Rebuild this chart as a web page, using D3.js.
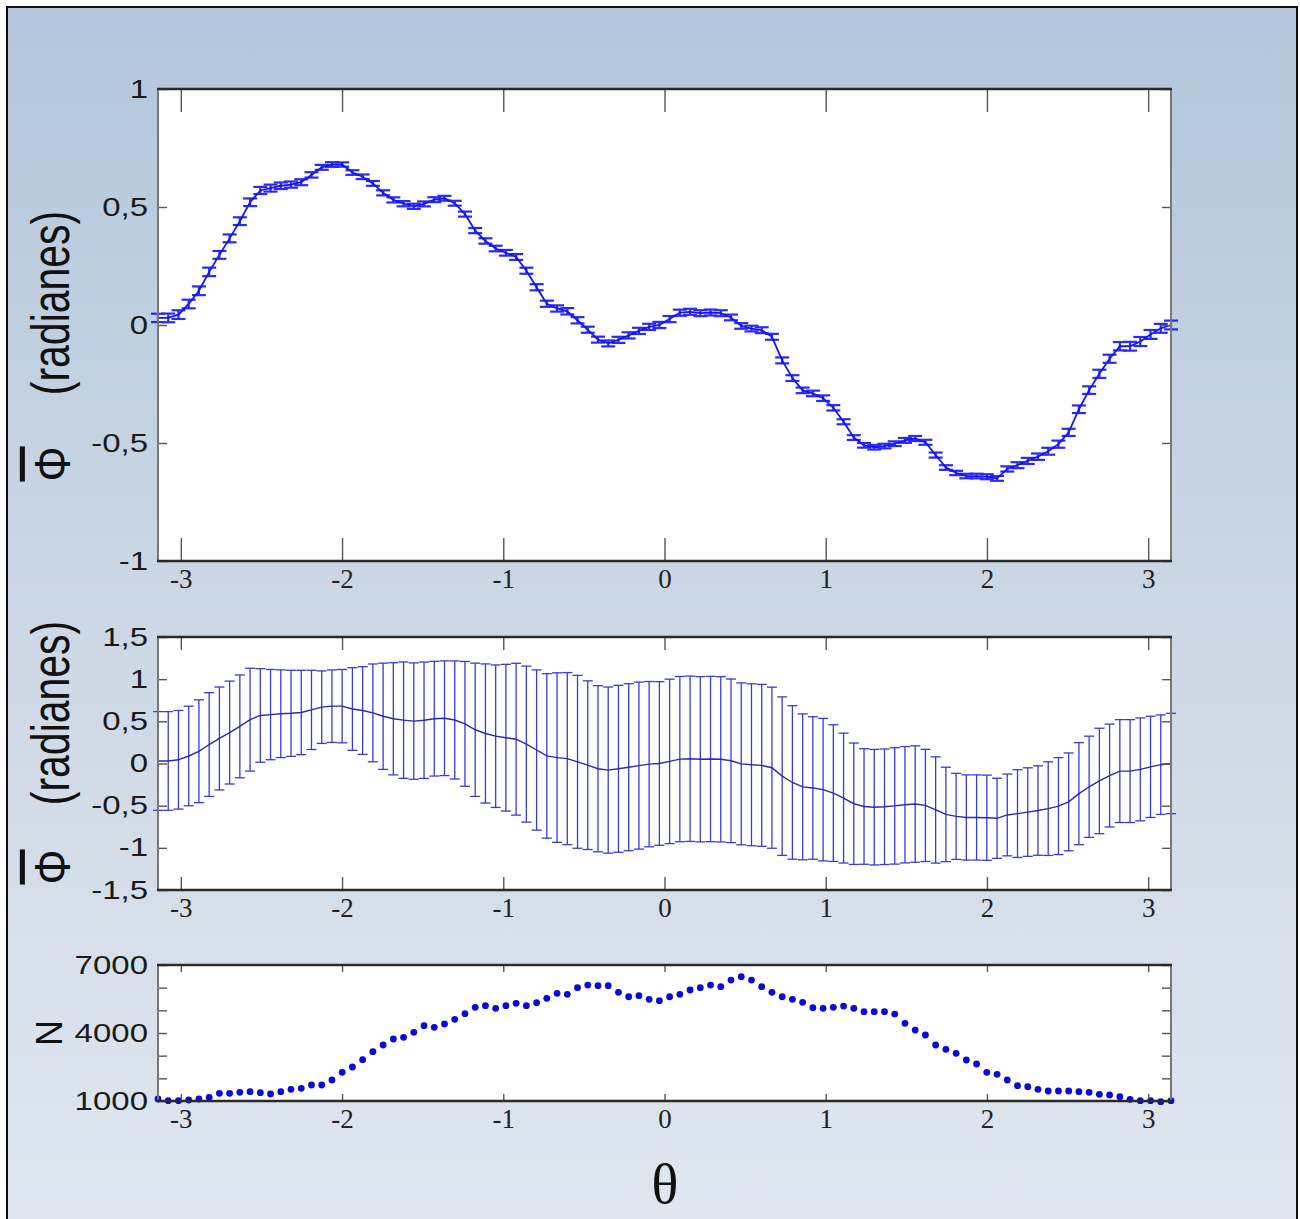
<!DOCTYPE html>
<html><head><meta charset="utf-8">
<script src="https://cdn.jsdelivr.net/npm/d3@7"></script>
<style>html,body{margin:0;padding:0;background:#fff}svg{display:block}</style>
</head><body>
<svg id="c" width="1300" height="1219"></svg>
<script>
// ---------- data ----------
const thetaMin = -Math.PI, thetaMax = Math.PI;
const nBins = 100;
const theta = d3.range(nBins).map(i => thetaMin + i * (thetaMax - thetaMin) / (nBins - 1));

const meanPhi = [0.03,0.03,0.044,0.089,0.145,0.225,0.297,0.367,0.44,0.52,
0.57,0.58,0.59,0.595,0.605,0.636,0.668,0.68,0.68,0.646,
0.628,0.60,0.56,0.53,0.514,0.503,0.513,0.531,0.537,0.516,
0.47,0.40,0.356,0.324,0.306,0.288,0.23,0.16,0.09,0.07,
0.058,0.02,-0.02,-0.062,-0.078,-0.063,-0.044,-0.025,-0.008,0.0,
0.025,0.052,0.056,0.05,0.053,0.05,0.032,-0.004,-0.015,-0.022,
-0.05,-0.15,-0.225,-0.277,-0.29,-0.31,-0.351,-0.41,-0.477,-0.51,
-0.518,-0.513,-0.503,-0.489,-0.481,-0.497,-0.551,-0.604,-0.627,-0.64,
-0.64,-0.643,-0.65,-0.61,-0.594,-0.576,-0.558,-0.535,-0.505,-0.455,
-0.357,-0.276,-0.207,-0.143,-0.09,-0.09,-0.07,-0.04,-0.014,0.0];

const stdPhi = [0.585,0.585,0.585,0.59,0.61,0.615,0.61,0.61,0.61,0.61,
0.555,0.535,0.52,0.51,0.50,0.47,0.43,0.43,0.435,0.49,
0.52,0.58,0.63,0.665,0.69,0.69,0.69,0.68,0.68,0.70,
0.74,0.79,0.825,0.845,0.87,0.90,0.925,0.95,0.975,1.005,
1.02,1.025,1.0,0.985,0.985,0.99,0.99,0.99,0.98,0.97,
0.975,0.98,0.98,0.98,0.98,0.98,0.97,0.96,0.96,0.96,
0.955,0.94,0.91,0.865,0.845,0.845,0.81,0.77,0.72,0.685,
0.685,0.685,0.69,0.69,0.69,0.665,0.63,0.56,0.51,0.505,
0.505,0.505,0.475,0.485,0.52,0.525,0.53,0.555,0.575,0.58,
0.605,0.60,0.625,0.61,0.61,0.61,0.61,0.60,0.59,0.595];

const countN = [1088,1013,1013,1044,1088,1161,1338,1338,1382,1412,
1368,1309,1412,1515,1560,1706,1706,1926,2265,2500,
2822,3176,3470,3735,3808,4029,4323,4250,4396,4602,
4852,5132,5205,5088,5205,5308,5205,5337,5528,5749,
5705,5999,6116,6087,6087,5793,5600,5645,5484,5425,
5600,5705,5896,5999,6116,6043,6336,6483,6336,6043,
5793,5600,5484,5352,5117,5088,5132,5190,5088,4940,
4940,4940,4837,4426,4131,3911,3470,3279,3102,2808,
2632,2265,2177,1926,1676,1632,1515,1441,1441,1441,
1412,1382,1294,1265,1191,1073,1013,1013,970,1013];

const xTicks = [-3,-2,-1,0,1,2,3];
const xTickLabels = ["-3","-2","-1","0","1","2","3"];
const yTicksTop = [-1,-0.5,0,0.5,1];
const yLabelsTop = ["-1","-0,5","0","0,5","1"];
const yTicksMid = [-1.5,-1,-0.5,0,0.5,1,1.5];
const yLabelsMid = ["-1,5","-1","-0,5","0","0,5","1","1,5"];
const yTicksBot = [1000,2000,3000,4000,5000,6000,7000];
const yLabelsBot = ["1000","","","4000","","","7000"];

// ---------- drawing ----------
const svg = d3.select("#c");
const defs = svg.append("defs");
const grad = defs.append("linearGradient").attr("id","bg").attr("x1",0).attr("y1",0).attr("x2",0).attr("y2",1);
grad.append("stop").attr("offset","0%").attr("stop-color","#b3c6db");
grad.append("stop").attr("offset","50%").attr("stop-color","#ccd8e5");
grad.append("stop").attr("offset","100%").attr("stop-color","#e0e7ef");
svg.append("rect").attr("x",7).attr("y",7).attr("width",1290).attr("height",1240)
  .attr("fill","url(#bg)").attr("stroke","#111").attr("stroke-width",2);

const L = 158, R = 1171;
const x = d3.scaleLinear().domain([thetaMin, thetaMax]).range([L, R]);
const data = theta.map((t,i)=>({t, m:meanPhi[i], s:stdPhi[i], n:countN[i], sem: stdPhi[i]/Math.sqrt(countN[i])}));

function panel(cfg){
  const y = d3.scaleLinear().domain(cfg.domain).range([cfg.bottom, cfg.top]);
  const g = svg.append("g");
  g.append("rect").attr("x",L).attr("y",cfg.top).attr("width",R-L).attr("height",cfg.bottom-cfg.top).attr("fill","#fff");
  cfg.draw(g, y);
  const tickStyle = sel => { sel.select(".domain").remove(); sel.selectAll(".tick line").attr("stroke","#555").attr("stroke-width",1.4); };
  const xb = g.append("g").attr("transform",`translate(0,${cfg.bottom})`)
    .call(d3.axisBottom(x).tickValues(xTicks).tickFormat((d,i)=>xTickLabels[i]).tickSize(-cfg.xTick).tickPadding(8));
  tickStyle(xb);
  xb.selectAll("text").attr("font-family","Liberation Serif").attr("font-size",27).attr("fill","#222");
  const xt = g.append("g").attr("transform",`translate(0,${cfg.top})`)
    .call(d3.axisTop(x).tickValues(xTicks).tickFormat("").tickSize(-cfg.xTick));
  tickStyle(xt);
  const yl = g.append("g").attr("transform",`translate(${L},0)`)
    .call(d3.axisLeft(y).tickValues(cfg.yTicks).tickFormat((d,i)=>cfg.yLabels[i]).tickSize(-9).tickPadding(0));
  tickStyle(yl);
  yl.selectAll("text").attr("x",0).attr("font-family","Liberation Sans").attr("font-size",25).attr("fill","#1a1a1a")
    .attr("transform","translate(-10,0) scale(1.32,1)");
  const yr = g.append("g").attr("transform",`translate(${R},0)`)
    .call(d3.axisRight(y).tickValues(cfg.yTicks).tickFormat("").tickSize(-9));
  tickStyle(yr);
  g.append("line").attr("x1",L).attr("x2",L).attr("y1",cfg.top).attr("y2",cfg.bottom).attr("stroke","#777").attr("stroke-width",2);
  g.append("line").attr("x1",R).attr("x2",R).attr("y1",cfg.top).attr("y2",cfg.bottom).attr("stroke","#777").attr("stroke-width",2);
  g.append("line").attr("x1",L-1).attr("x2",R+1).attr("y1",cfg.top).attr("y2",cfg.top).attr("stroke","#2a2a2a").attr("stroke-width",2.5);
  g.append("line").attr("x1",L-1).attr("x2",R+1).attr("y1",cfg.bottom).attr("y2",cfg.bottom).attr("stroke","#2a2a2a").attr("stroke-width",2.5);
  return y;
}

// top panel: mean with SEM error bars
panel({top:89, bottom:561, domain:[-1,1], xTick:23, yTicks:yTicksTop, yLabels:yLabelsTop,
  draw:(g,y)=>{
    const col = "#1414f5", cw = 7;
    const eb = g.append("g").attr("stroke",col).attr("stroke-width",2.2).attr("opacity",0.9);
    data.forEach(d=>{
      const y1 = y(d.m + d.sem), y0 = y(d.m - d.sem), xx = x(d.t);
      eb.append("line").attr("x1",xx).attr("x2",xx).attr("y1",y1).attr("y2",y0);
      eb.append("line").attr("x1",xx-cw).attr("x2",xx+cw).attr("y1",y1).attr("y2",y1);
      eb.append("line").attr("x1",xx-cw).attr("x2",xx+cw).attr("y1",y0).attr("y2",y0);
    });
    g.append("path").datum(data).attr("fill","none").attr("stroke",col).attr("stroke-width",1.8)
      .attr("d", d3.line().x(d=>x(d.t)).y(d=>y(d.m)));
  }});

// middle panel: mean with std error bars
panel({top:637, bottom:890, domain:[-1.5,1.5], xTick:13, yTicks:yTicksMid, yLabels:yLabelsMid,
  draw:(g,y)=>{
    const cw = 5;
    const eb = g.append("g").attr("stroke","#3a3ad6").attr("stroke-width",1.3);
    data.forEach(d=>{
      const y1 = y(d.m + d.s), y0 = y(d.m - d.s), xx = x(d.t);
      eb.append("line").attr("x1",xx).attr("x2",xx).attr("y1",y1).attr("y2",y0);
      eb.append("line").attr("x1",xx-cw).attr("x2",xx+cw).attr("y1",y1).attr("y2",y1);
      eb.append("line").attr("x1",xx-cw).attr("x2",xx+cw).attr("y1",y0).attr("y2",y0);
    });
    g.append("path").datum(data).attr("fill","none").attr("stroke","#2a2aa8").attr("stroke-width",1.4)
      .attr("d", d3.line().x(d=>x(d.t)).y(d=>y(d.m)));
  }});

// bottom panel: counts
panel({top:965, bottom:1101, domain:[1000,7000], xTick:7, yTicks:yTicksBot, yLabels:yLabelsBot,
  draw:(g,y)=>{
    g.append("g").selectAll("circle").data(data).join("circle")
      .attr("cx",d=>x(d.t)).attr("cy",d=>y(d.n)).attr("r",3.4).attr("fill","#0a0ad2");
  }});

// axis titles
function vtitle(txt, xx, yy, size, sx, over){
  const t = svg.append("text").attr("transform",`translate(${xx},${yy}) scale(${sx},1) rotate(-90)`)
    .attr("text-anchor","middle").attr("font-family","Liberation Sans").attr("font-size",size).attr("fill","#111").text(txt);
  if (over) t.attr("text-decoration","overline");
  return t;
}
vtitle("Φ", 70, 464, 44, 1.15, true);
vtitle("(radianes)", 69, 303, 41, 1.3, false);
vtitle("Φ", 70, 867, 44, 1.15, true);
vtitle("(radianes)", 69, 713, 41, 1.3, false);
vtitle("N", 62, 1033, 36, 1.05, false);
svg.append("text").attr("x",665).attr("y",1203).attr("text-anchor","middle")
  .attr("font-family","Liberation Serif").attr("font-size",56).attr("fill","#111").text("θ");
</script>
</body></html>
